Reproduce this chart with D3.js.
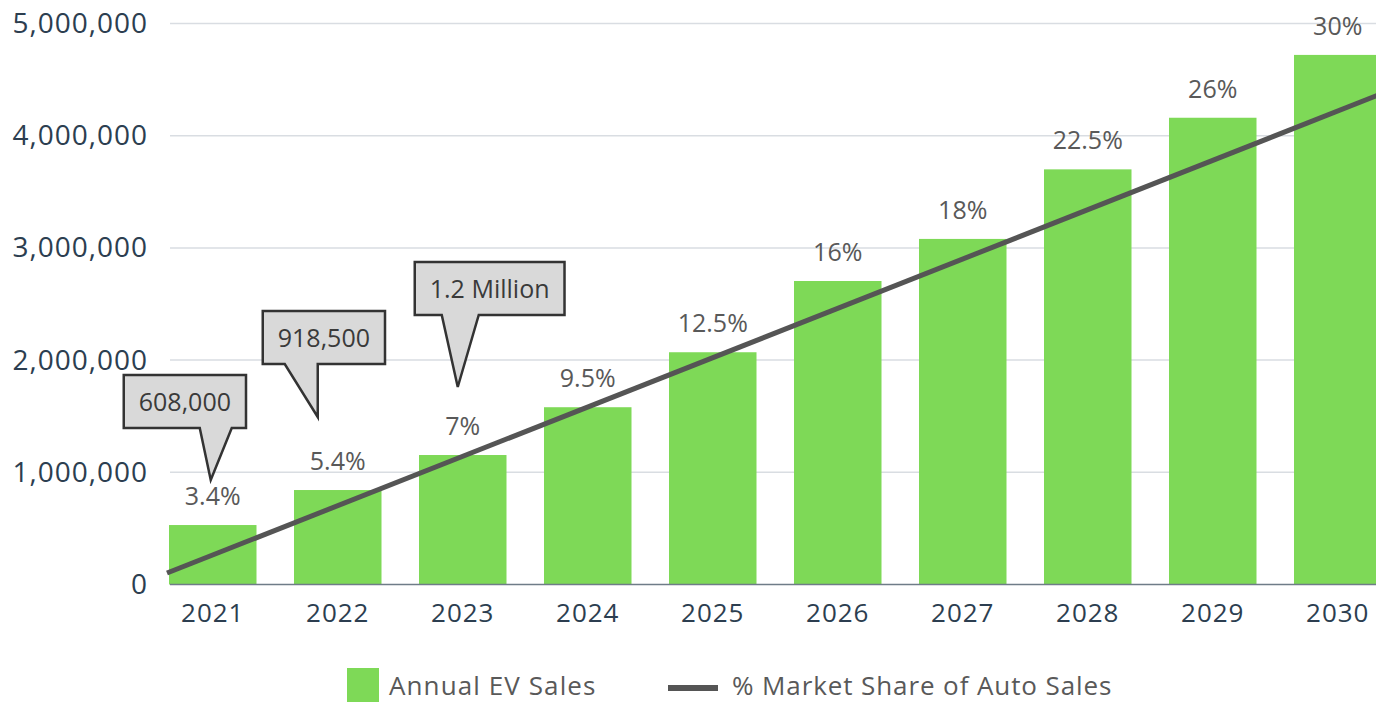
<!DOCTYPE html>
<html>
<head>
<meta charset="utf-8">
<script src="https://cdn.jsdelivr.net/npm/d3@7"></script>
<style>
  body { margin: 0; background: #fff; }
  svg { display: block; font-family: 'Open Sans', sans-serif; }
</style>
</head>
<body>
<script>
// data
var years = ['2021', '2022', '2023', '2024', '2025', '2026', '2027', '2028', '2029', '2030'];
var evSales = [530000, 842000, 1154000, 1580000, 2070000, 2705000, 3080000, 3700000, 4160000, 4720000];
var shareLabels = ['3.4%', '5.4%', '7%', '9.5%', '12.5%', '16%', '18%', '22.5%', '26%', '30%'];
var yTicks = [0, 1000000, 2000000, 3000000, 4000000, 5000000];
// straight trend line, value at 2021 and at 2030
var trendYears = ['2021', '2030'];
var trendValues = [263000, 4220000];
var calloutYears = ['2021', '2022', '2023'];
var calloutTexts = ['608,000', '918,500', '1.2 Million'];
var legendLabels = ['Annual EV Sales', '% Market Share of Auto Sales'];

var width = 1376;
var height = 702;

var green = '#7ed957';
var lineColor = '#555555';
var axisText = '#2c3e50';
var labelText = '#595959';

var svg = d3.select('body')
            .append('svg')
            .attr('width', width)
            .attr('height', height);

var x = d3.scaleBand()
          .domain(years)
          .range([169, 1381.5])
          .paddingInner(0.3)
          .paddingOuter(0);

var y = d3.scaleLinear()
          .domain([0, 5000000])
          .range([584.5, 23.5]);

// gridlines
svg.append('g')
   .selectAll('line')
   .data(yTicks.slice(1))
   .enter()
   .append('line')
   .attr('x1', 170)
   .attr('x2', width)
   .attr('y1', function(d){ return y(d); })
   .attr('y2', function(d){ return y(d); })
   .attr('stroke', '#d9dde2')
   .attr('stroke-width', 1.5);

// y axis labels
var yAxis = d3.axisLeft(y)
              .tickValues(yTicks)
              .tickSize(0)
              .tickPadding(0)
              .tickFormat(d3.format(','));

svg.append('g')
   .attr('transform', 'translate(148,0)')
   .call(yAxis)
   .call(function(g){ g.select('.domain').remove(); })
   .selectAll('text')
   .attr('fill', axisText)
   .attr('font-size', 28)
   .attr('letter-spacing', 1)
   .attr('font-family', "'Open Sans', sans-serif");

// bars
svg.append('g')
   .selectAll('rect')
   .data(evSales)
   .enter()
   .append('rect')
   .attr('x', function(d, i){ return x(years[i]); })
   .attr('y', function(d){ return y(d); })
   .attr('width', x.bandwidth())
   .attr('height', function(d){ return y(0) - y(d); })
   .attr('fill', green);

// baseline
svg.append('line')
   .attr('x1', 170)
   .attr('x2', width)
   .attr('y1', y(0))
   .attr('y2', y(0))
   .attr('stroke', '#6f7c88')
   .attr('stroke-width', 1.5);

// x axis labels
var xAxis = d3.axisBottom(x)
              .tickSize(0)
              .tickPadding(0);

svg.append('g')
   .attr('transform', 'translate(0,' + (y(0) + 19) + ')')
   .call(xAxis)
   .call(function(g){ g.select('.domain').remove(); })
   .selectAll('text')
   .attr('fill', axisText)
   .attr('font-size', 26)
   .attr('letter-spacing', 1)
   .attr('font-family', "'Open Sans', sans-serif");

// percentage labels above bars
svg.append('g')
   .selectAll('text')
   .data(shareLabels)
   .enter()
   .append('text')
   .attr('x', function(d, i){ return x(years[i]) + x.bandwidth() / 2; })
   .attr('y', function(d, i){ return y(evSales[i]) - 20; })
   .attr('text-anchor', 'middle')
   .attr('fill', labelText)
   .attr('font-size', 25)
   .text(function(d){ return d; });

// trend line, extended a little past the first and last year
var step = x.step();
var cx = function(yr){ return x(yr) + x.bandwidth() / 2; };
var slope = (trendValues[1] - trendValues[0]) / (cx(trendYears[1]) - cx(trendYears[0]));
var x0 = cx(trendYears[0]) - step * 0.366;
var x1 = cx(trendYears[1]) + step * 0.5;
var trendPts = [x0, x1].map(function(px){
  return [px, y(trendValues[0] + slope * (px - cx(trendYears[0])))];
});

svg.append('path')
   .attr('d', d3.line()(trendPts))
   .attr('fill', 'none')
   .attr('stroke', lineColor)
   .attr('stroke-width', 5);

// callouts (tip offset from bar centre/top, box left and tail base relative to tip)
var calloutLayout = [
  { dx: -2, dy: 45, boxLeft: -87, boxGap: 52, tail: [-11, 21] },
  { dx: -20, dy: 73, boxLeft: -55, boxGap: 53, tail: [-33, 0] },
  { dx: -5, dy: 68, boxLeft: -43, boxGap: 72, tail: [-16, 21] }
];
var boxH = 53;
var padX = 15;

calloutTexts.forEach(function(t, i){
  var yr = calloutYears[i];
  var lay = calloutLayout[i];
  var tipX = cx(yr) + lay.dx;
  var tipY = y(evSales[years.indexOf(yr)]) - lay.dy;
  var g = svg.append('g');
  var txt = g.append('text')
             .attr('font-size', 25)
             .attr('fill', '#3a3a3a')
             .attr('text-anchor', 'middle')
             .text(t);
  var tw = txt.node().getComputedTextLength();
  var bw = tw + padX * 2;
  var left = tipX + lay.boxLeft;
  var bottom = tipY - lay.boxGap;
  var top = bottom - boxH;
  var pts = [
    [left, top], [left + bw, top], [left + bw, bottom],
    [tipX + lay.tail[1], bottom], [tipX, tipY], [tipX + lay.tail[0], bottom],
    [left, bottom]
  ];
  g.insert('path', 'text')
   .attr('d', d3.line()(pts) + 'Z')
   .attr('fill', '#d9d9d9')
   .attr('stroke', '#333333')
   .attr('stroke-width', 2.5)
   .attr('stroke-linejoin', 'miter');
  txt.attr('x', left + bw / 2)
     .attr('y', top + boxH / 2 + 9);
});

// legend
var legend = svg.append('g');
legend.append('rect')
      .attr('x', 347)
      .attr('y', 668)
      .attr('width', 32)
      .attr('height', 34)
      .attr('fill', green);
legend.append('text')
      .attr('x', 389)
      .attr('y', 695)
      .attr('fill', labelText)
      .attr('font-size', 26)
      .attr('letter-spacing', 1.1)
      .text(legendLabels[0]);
legend.append('line')
      .attr('x1', 668)
      .attr('x2', 718)
      .attr('y1', 688)
      .attr('y2', 688)
      .attr('stroke', lineColor)
      .attr('stroke-width', 6);
legend.append('text')
      .attr('x', 732)
      .attr('y', 695)
      .attr('fill', labelText)
      .attr('font-size', 26)
      .attr('letter-spacing', 0.9)
      .text(legendLabels[1]);
</script>
</body>
</html>
